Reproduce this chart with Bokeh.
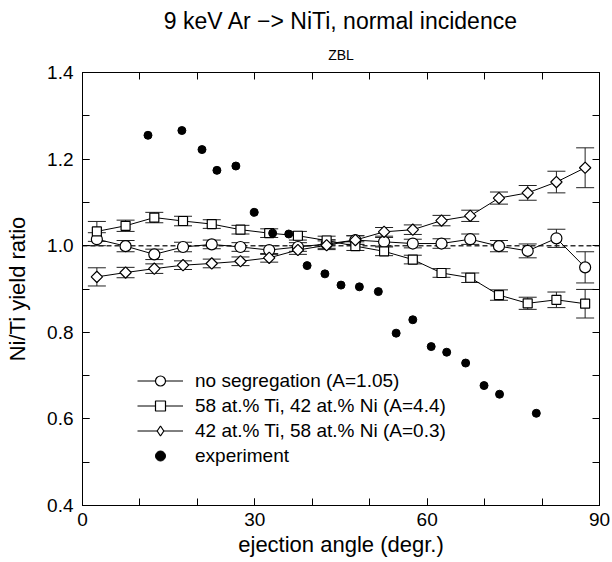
import math
from bokeh.plotting import figure
from bokeh.models import (ColumnDataSource, Whisker, TeeHead, Span, Legend, LegendItem,
                          LinearAxis, FixedTicker, Range1d, Title, PrintfTickFormatter)
from bokeh.embed import file_html
from bokeh.resources import INLINE

# ---------------- data ----------------
angle = [2.5, 7.5, 12.5, 17.5, 22.5, 27.5, 32.5, 37.5, 42.5,
         47.5, 52.5, 57.5, 62.5, 67.5, 72.5, 77.5, 82.5, 87.5]

no_seg = [1.015, 0.999, 0.980, 0.997, 1.003, 0.997, 0.990, 0.997, 1.004,
          1.013, 1.009, 1.005, 1.005, 1.015, 0.999, 0.988, 1.017, 0.950]
no_seg_err = [0.015, 0.013, 0.012, 0.011, 0.010, 0.010, 0.010, 0.010, 0.010,
              0.010, 0.010, 0.010, 0.011, 0.012, 0.013, 0.016, 0.021, 0.036]

ti58 = [1.033, 1.046, 1.065, 1.057, 1.050, 1.037, 1.029, 1.023, 1.012,
        0.999, 0.987, 0.968, 0.937, 0.926, 0.886, 0.867, 0.875, 0.866]
ti58_err = [0.023, 0.013, 0.012, 0.011, 0.010, 0.010, 0.010, 0.010, 0.010,
            0.010, 0.010, 0.010, 0.010, 0.011, 0.012, 0.014, 0.018, 0.033]

ni58 = [0.928, 0.938, 0.947, 0.955, 0.959, 0.964, 0.972, 0.990, 1.001,
        1.013, 1.032, 1.037, 1.058, 1.069, 1.110, 1.122, 1.147, 1.180]
ni58_err = [0.021, 0.012, 0.011, 0.010, 0.010, 0.010, 0.010, 0.010, 0.010,
            0.010, 0.010, 0.011, 0.012, 0.013, 0.014, 0.017, 0.025, 0.046]

exp_angle = [11.4, 17.3, 20.8, 23.4, 26.7, 29.9, 33.1, 35.9, 39.1, 42.2, 45.0,
             48.2, 51.5, 54.6, 57.5, 60.7, 63.4, 66.7, 69.9, 72.6, 79.0]
exp_ratio = [1.255, 1.266, 1.222, 1.174, 1.184, 1.077, 1.029, 1.027, 0.954, 0.935, 0.909,
             0.905, 0.894, 0.798, 0.829, 0.767, 0.754, 0.729, 0.677, 0.657, 0.613]

labels = ["no segregation (A=1.05)",
          "58 at.% Ti, 42 at.% Ni (A=4.4)",
          "42 at.% Ti, 58 at.% Ni (A=0.3)",
          "experiment"]

x_ticks = [0, 30, 60, 90]
x_minor = [0, 10, 20, 30, 40, 50, 60, 70, 80, 90]
y_ticks = [0.4, 0.6, 0.8, 1.0, 1.2, 1.4]
y_minor = [0.4, 0.5, 0.6, 0.7, 0.8, 0.9, 1.0, 1.1, 1.2, 1.3, 1.4]

title_text = "9 keV Ar \u2212> NiTi, normal incidence"
subtitle_text = "ZBL"
x_title = "ejection angle (degr.)"
y_title = "Ni/Ti yield ratio"

FONT = "Liberation Sans"

# ---------------- figure ----------------
p = figure(width=612, height=562, x_range=Range1d(0, 90), y_range=Range1d(0.4, 1.4),
           output_backend="svg", toolbar_location=None,
           min_border_left=82, min_border_right=13, min_border_top=72, min_border_bottom=57)
p.xgrid.visible = False
p.ygrid.visible = False
p.outline_line_color = "black"
p.outline_line_width = 1
p.background_fill_color = "white"
p.border_fill_color = "white"


def style_axis(ax, ticks, minor):
    ax.ticker = FixedTicker(ticks=ticks, minor_ticks=minor)
    ax.axis_line_color = "black"
    ax.axis_line_width = 1
    ax.major_tick_in = 7
    ax.major_tick_out = 0
    ax.minor_tick_in = 7
    ax.minor_tick_out = 0
    ax.major_tick_line_color = "black"
    ax.minor_tick_line_color = "black"
    ax.major_label_text_font = FONT
    ax.major_label_text_color = "black"
    ax.major_label_text_font_size = "19px"
    ax.axis_label_text_font = FONT
    ax.axis_label_text_font_style = "normal"
    ax.axis_label_text_color = "black"


xa = p.xaxis[0]
style_axis(xa, x_ticks, x_minor)
xa.major_label_standoff = 7
xa.axis_label = x_title
xa.axis_label_text_font_size = "22px"
xa.axis_label_standoff = 3

ya = p.yaxis[0]
style_axis(ya, y_ticks, y_minor)
ya.major_label_standoff = 9
ya.formatter = PrintfTickFormatter(format="%.1f")
ya.axis_label = y_title
ya.axis_label_text_font_size = "22px"
ya.axis_label_standoff = 14

# mirrored tick marks on top and right (ticks only, no labels)
top_ax = LinearAxis()
style_axis(top_ax, [], x_minor)
top_ax.major_label_standoff = 0
p.add_layout(top_ax, "above")
right_ax = LinearAxis()
style_axis(right_ax, [], y_minor)
right_ax.major_label_standoff = 0
p.add_layout(right_ax, "right")

p.add_layout(Title(text=subtitle_text, align="center", text_font=FONT,
                   text_font_size="14px", text_font_style="normal",
                   text_color="black", standoff=19), "above")
p.add_layout(Title(text=title_text, align="center", text_font=FONT,
                   text_font_size="23px", text_font_style="normal",
                   text_color="black", standoff=4), "above")

# reference line at 1.0
p.add_layout(Span(location=1.0, dimension="width", line_color="#333333",
                  line_width=1.5, line_dash="5 3", level="underlay"))

series = [
    (no_seg, no_seg_err, dict(marker="circle", size=11, angle=0), "circle"),
    (ti58, ti58_err, dict(marker="square", size=9, angle=0), "square"),
    (ni58, ni58_err, dict(marker="square", size=8, angle=math.pi / 4), "diamond"),
]

items = []
for (vals, errs, mk, legend_marker), lab in zip(series, labels[:3]):
    src = ColumnDataSource(dict(
        x=angle, y=vals,
        upper=[v + e for v, e in zip(vals, errs)],
        lower=[v - e for v, e in zip(vals, errs)]))
    p.add_layout(Whisker(source=src, base="x", upper="upper", lower="lower",
                         dimension="height", line_color="#222222", line_width=1,
                         upper_head=TeeHead(size=18, line_color="#222222", line_width=1),
                         lower_head=TeeHead(size=18, line_color="#222222", line_width=1),
                         level="underlay"))
    lr = p.line("x", "y", source=src, line_color="black", line_width=1)
    key = None
    if legend_marker != mk["marker"]:
        # zero-size copy of the series used only for the legend key shape
        key = p.scatter("x", "y", source=src, marker=legend_marker, size=0,
                        fill_color="white", line_color="black", line_width=1.2)
    sr = p.scatter("x", "y", source=src, marker=mk["marker"], size=mk["size"],
                   angle=mk["angle"], fill_color="white", line_color="black",
                   line_width=1.2)
    items.append(LegendItem(label=lab, renderers=[lr, key if key is not None else sr]))

exp_src = ColumnDataSource(dict(x=exp_angle, y=exp_ratio))
er = p.scatter("x", "y", source=exp_src, marker="circle", size=8,
               fill_color="black", line_color="black")
items.append(LegendItem(label=labels[3], renderers=[er]))

legend = Legend(items=items, location=(55, 37), orientation="vertical",
                padding=0, margin=0, spacing=0,
                border_line_alpha=0, background_fill_alpha=0,
                glyph_width=46, glyph_height=25, label_height=25,
                label_standoff=12, label_text_font=FONT,
                label_text_font_size="19px", label_text_color="black")
p.add_layout(legend)

open("out.html", "w").write(file_html(p, INLINE))
